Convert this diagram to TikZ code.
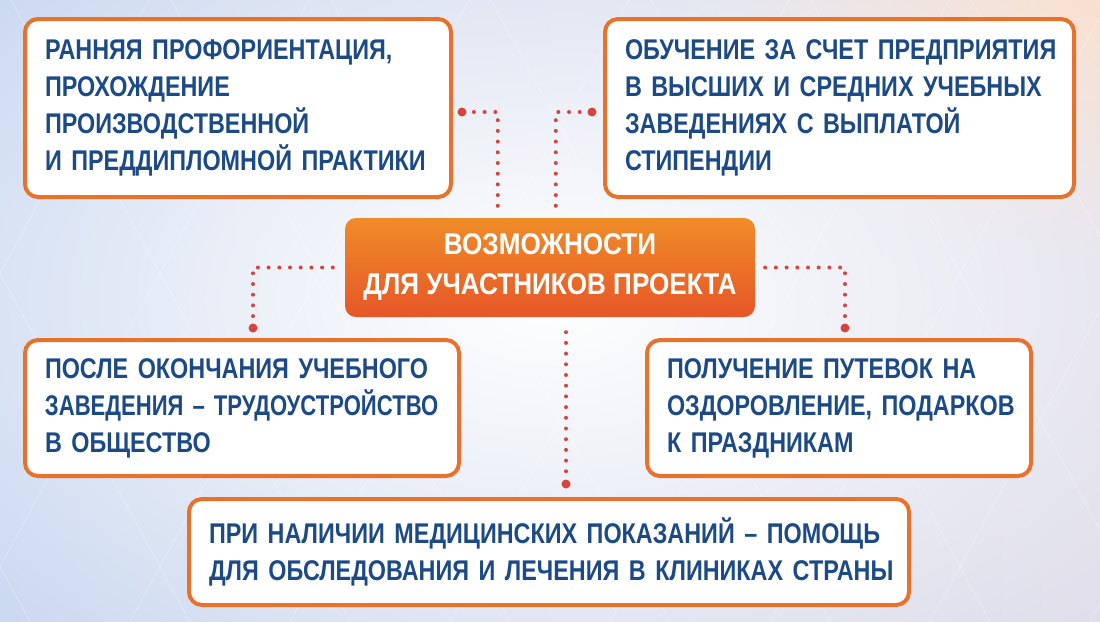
\documentclass[tikz,border=0pt]{standalone}
\usepackage{fontspec}
\setmainfont{Liberation Sans}[FakeStretch=0.82]
\newfontfamily\titlefont{Liberation Sans}[FakeStretch=0.87]
\usetikzlibrary{calc,fadings}

\definecolor{boxorange}{RGB}{232,114,43}
\definecolor{maintop}{RGB}{240,140,40}
\definecolor{mainbottom}{RGB}{230,86,40}
\definecolor{textblue}{RGB}{28,74,134}
\definecolor{dotred}{RGB}{214,68,64}
\definecolor{bgleft}{RGB}{186,205,236}
\definecolor{bgright}{RGB}{214,212,228}
\definecolor{peach}{RGB}{248,214,190}

\tikzfading[name=glowfade, inner color=transparent!0, outer color=transparent!100]

\tikzset{
  infobox/.style={draw=boxorange, line width=4pt, fill=white, rounded corners=13pt,
    inner sep=0pt, align=left, text=textblue,
    font=\bfseries\fontsize{28.5}{37}\selectfont},
  mainbox/.style={top color=maintop, bottom color=mainbottom, rounded corners=11pt,
    inner sep=0pt, align=center, text=white,
    font=\titlefont\bfseries\fontsize{30}{40}\selectfont},
  link/.style={draw=dotred, line width=4pt, line cap=round, dash pattern=on 0pt off 10.7pt},
}

\begin{document}
\begin{tikzpicture}[x=1pt,y=-1pt]
  \useasboundingbox (0,0) rectangle (1100,621);

  % Background
  \shade[left color=bgleft, right color=bgright] (0,0) rectangle (1100,621);
  \begin{scope}
    \clip (0,0) rectangle (1100,621);
    \fill[peach, path fading=glowfade] (1100,0) ellipse (420 and 260);
    \foreach \k in {-6,...,12}{
      \draw[white, opacity=0.25, line width=1pt] (\k*160,-20) -- ++(360,660);
      \draw[white, opacity=0.25, line width=1pt] (\k*160,-20) -- ++(-360,660);
    }
    \fill[white, path fading=glowfade] (550,300) ellipse (1000 and 600);
  \end{scope}

  % Centre box
  \node[mainbox, minimum width=410pt, minimum height=99pt] (main) at (550,267.5)
    {ВОЗМОЖНОСТИ\\ДЛЯ УЧАСТНИКОВ ПРОЕКТА};

  % Outer boxes (\mbox keeps each printed line whole)
  \node[infobox, minimum width=426pt, minimum height=178pt, text width=386pt] (early) at (238,108)
    {\mbox{РАННЯЯ ПРОФОРИЕНТАЦИЯ,}\\ПРОХОЖДЕНИЕ\\ПРОИЗВОДСТВЕННОЙ\\\mbox{И ПРЕДДИПЛОМНОЙ ПРАКТИКИ}};
  \node[infobox, minimum width=469pt, minimum height=178pt, text width=429pt] (study) at (839.5,108)
    {\mbox{ОБУЧЕНИЕ ЗА СЧЕТ ПРЕДПРИЯТИЯ}\\\mbox{В ВЫСШИХ И СРЕДНИХ УЧЕБНЫХ}\\\mbox{ЗАВЕДЕНИЯХ С ВЫПЛАТОЙ}\\СТИПЕНДИИ};
  \node[infobox, minimum width=434pt, minimum height=136pt, text width=394pt] (job) at (242,408)
    {\mbox{ПОСЛЕ ОКОНЧАНИЯ УЧЕБНОГО}\\\scalebox{0.945}[1]{ЗАВЕДЕНИЯ – ТРУДОУСТРОЙСТВО}\\\mbox{В ОБЩЕСТВО}};
  \node[infobox, minimum width=384pt, minimum height=136pt, text width=344pt] (trip) at (839,408)
    {\mbox{ПОЛУЧЕНИЕ ПУТЕВОК НА}\\\mbox{ОЗДОРОВЛЕНИЕ, ПОДАРКОВ}\\\mbox{К ПРАЗДНИКАМ}};
  \node[infobox, minimum width=720pt, minimum height=106pt, text width=680pt] (med) at (549,552)
    {\mbox{ПРИ НАЛИЧИИ МЕДИЦИНСКИХ ПОКАЗАНИЙ – ПОМОЩЬ}\\\mbox{ДЛЯ ОБСЛЕДОВАНИЯ И ЛЕЧЕНИЯ В КЛИНИКАХ СТРАНЫ}};

  % Dotted links
  \coordinate (e1) at ($(early.east)+(9,4)$);
  \coordinate (s1) at ($(study.west)+(-11,4)$);
  \coordinate (j1) at ($(job.north west)+(230,-10)$);
  \coordinate (t1) at ($(trip.north west)+(200,-10)$);
  \coordinate (m1) at ($(med.north)+(17,-13)$);
  \draw[link] ($(main.north west)+(153,-12)$) |- (e1);
  \draw[link] ($(main.north west)+(211,-12)$) |- (s1);
  \draw[link] ($(main.west)+(-12,0)$) -| (j1);
  \draw[link] ($(main.east)+(10,0)$) -| (t1);
  \draw[link] ($(main.south)+(16,15)$) -- (m1);
  \foreach \p in {e1,s1,j1,t1,m1}
    \fill[dotred] (\p) circle (4.5);
\end{tikzpicture}
\end{document}
